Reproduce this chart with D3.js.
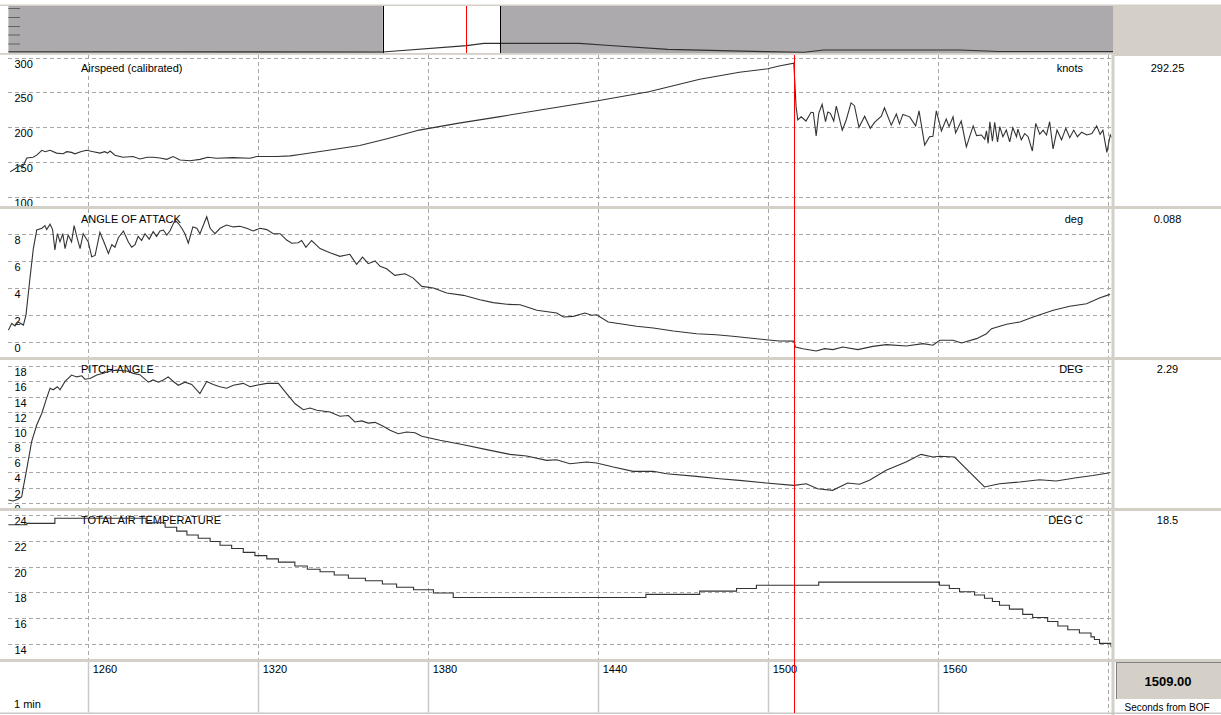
<!DOCTYPE html>
<html><head><meta charset="utf-8">
<script src="https://cdn.jsdelivr.net/npm/d3@7"></script>
<style>
html,body{margin:0;padding:0;background:#fff;}
svg{display:block;font-family:"Liberation Sans",Arial,sans-serif;}
</style></head><body>
<svg id="c" width="1221" height="715"></svg>
<script>
// ---------------- DATA ----------------
const timeTicks = [1260, 1320, 1380, 1440, 1500, 1560];
const timeGrid = [1260, 1320, 1380, 1440, 1500, 1560, 1620];
const cursorTime = 1509.2;
const cursorLabel = "1509.00";

const airspeedTicks = [100, 150, 200, 250, 300];
const aoaTicks = [0, 2, 4, 6, 8];
const pitchTicks = [0, 2, 4, 6, 8, 10, 12, 14, 16, 18];
const tatTicks = [14, 16, 18, 20, 22, 24];

const airspeedTime = [1232.6,1234.5,1236,1237,1238.5,1240.7,1242,1243.8,1245,1246.7,1249,1251.3,1252.6,1254.3,1255.5,1257.5,1259.6,1262,1264.3,1266,1267,1267.9,1269.6,1272.4,1276,1278.4,1281,1283,1285.5,1287.9,1290.1,1292.6,1296.1,1299.6,1302.4,1305.5,1311.3,1317.3,1319.6,1326.7,1331.4,1334.9,1345,1356,1366,1377,1391,1405,1423,1440,1458,1476,1490,1500,1504,1509.2,
 1510,1510.6,1511.8,1513.5,1515.3,1516.1,1517.1,1518,1519.2,1520.4,1521.2,1522.1,1523.3,1524.2,1526.3,1527.7,1529.4,1530.6,1532.2,1534.2,1536.2,1537.7,1540.1,1541.2,1543.6,1545.4,1546.5,1547.7,1550.1,1552.2,1553.4,1555.4,1557.1,1558.3,1559.5,1561.3,1563,1564,1565.4,1566.3,1568.3,1570.1,1572.5,1573.7,1575.4,1576.6,1577.2,1577.8,1578.4,1579.3,1580.1,1581.1,1581.9,1583,1584.2,1585.4,1586.5,1587.8,1588.3,1589.5,1590.7,1591.9,1593.4,1594.6,1596,1597.2,1598.4,1599.5,1600.7,1602.1,1603.7,1605.2,1606.6,1608,1609.3,1610.8,1612.6,1614.4,1616.1,1617.3,1618.3,1619.7,1620.9,1621.8];
const airspeedValue = [136,141,145,143,156,157,160,167,165,167,163,162,165,164,162,165,167,165,163,165,163,166,160,157,158,154.5,157,157,156,154,158,153,152,154,157,155.5,156.5,155.5,158,158,159,161,167,174,184,196,206,215,227,238,251,269,279,284,288,292,
 230,210.5,215,209,221.5,221,187.5,220,233,208,222,220,209,230.5,196,210.5,235,231,200,216,198.5,207,216,228,203,219,205,218.5,215,202,223.5,174.5,186.5,187,223.5,194.7,212,201,215,192,209,172,202,188,189,183,195,177,208,180,207,179,201,186.5,196,179,199.5,186.5,197.5,182,191,186.5,166,205.7,190,196,189,208,169,196,182,198.5,185,196,186.5,193,189,191,202,190,196,164,189,183];

const aoaTime = [1232,1233.2,1234.3,1235.5,1237.3,1238.2,1239.6,1240.8,1242,1243.8,1244.9,1245.5,1246.7,1247.6,1248.4,1249.3,1250.2,1251.2,1252,1253.1,1254.3,1255.2,1256.3,1257.3,1258.4,1260.2,1261.4,1262.6,1264.3,1265.5,1267.3,1268.5,1269.6,1270.8,1272.6,1274.3,1275.5,1276.7,1277.8,1279,1280.2,1281.7,1283.1,1284.3,1285.5,1286.7,1287.9,1289,1290.8,1292,1293.2,1294.3,1295.5,1297.1,1298.5,1299.6,1302,1303.2,1304.9,1306.7,1309,1311.4,1313.7,1316.1,1318.4,1320.8,1323.2,1325.5,1327.9,1330.2,1332,1334.3,1335.5,1337,1339,1342,1345.5,1349,1352.5,1354.9,1357,1359,1361.4,1363.2,1365.5,1368.4,1372,1374.9,1377.9,1382,1386.7,1392.6,1398.4,1403.1,1407.9,1412.6,1418.5,1425.5,1427.9,1431.4,1435.5,1437.9,1439.6,1443.7,1447.9,1453.7,1459.6,1466.7,1474.9,1481.8,1487.7,1493.5,1499.4,1504.1,1509.2,1509.8,1512.4,1517.1,1520.1,1523,1526.5,1531.8,1537.1,1541.9,1548.9,1554.8,1558.3,1560.7,1565.4,1568.4,1573.7,1577.2,1579,1584.3,1589,1593.7,1600.8,1606.6,1612.5,1617.3,1620.8];
const aoaValue = [0.9,1.4,1.2,1.5,1.27,2.0,4.7,6.9,8.27,8.4,8.6,8.3,8.7,8.3,6.8,8.0,7.4,8.0,6.9,7.9,7.4,8.6,7.66,6.9,8.0,7.4,6.3,6.4,8.1,7.5,6.55,7.2,7.0,7.7,8.2,7.4,7.0,7.2,7.8,7.5,8.0,7.6,8.15,7.8,8.2,8.27,7.9,8.2,9.0,8.75,8.4,8.0,7.3,8.5,8.4,8.0,9.25,8.4,8.0,8.4,8.64,8.5,8.55,8.4,8.2,8.4,8.3,8.0,8.0,7.53,7.3,7.33,7.5,7.0,7.5,6.9,6.6,6.33,6.48,5.74,6.28,5.79,5.99,5.6,5.42,4.93,5.05,4.73,4.12,4.0,3.63,3.46,3.14,2.92,2.8,2.77,2.36,2.16,1.86,1.91,2.16,1.99,2.03,1.5,1.37,1.18,1.05,0.83,0.63,0.56,0.44,0.32,0.19,0.1,0.088,-0.35,-0.47,-0.64,-0.47,-0.54,-0.35,-0.54,-0.3,-0.17,-0.27,-0.1,-0.22,0.15,0.15,-0.05,0.27,0.63,1.0,1.33,1.5,1.86,2.36,2.65,2.84,3.28,3.53];

const pitchTime = [1232,1233.7,1235.5,1236.7,1237.3,1238.5,1240.2,1242,1243.8,1245.5,1246.7,1247.8,1249.3,1250.2,1252,1254.3,1256.1,1257.9,1259,1260.8,1263.2,1265.5,1267.9,1270.2,1273.8,1276.1,1278.4,1281.4,1283.1,1284.9,1286.7,1288.4,1290.2,1292,1294.3,1296.7,1299.6,1302,1304.3,1306.7,1309,1311.4,1314.9,1317.3,1319.6,1323.2,1327.3,1330.2,1333.2,1336.1,1338.5,1340.8,1345.5,1349,1352,1354.3,1356.7,1359,1361.4,1364.3,1366.7,1369.6,1372.6,1375.5,1377.9,1384.3,1392.6,1400.8,1409,1414.9,1422,1425.5,1430.2,1436.1,1439.6,1445.5,1452.5,1459.6,1464.3,1474.9,1483,1490,1499.4,1509.2,1513.6,1517.6,1522.9,1528.2,1532.4,1535.9,1541.8,1548.8,1554.1,1558.3,1560.6,1565.9,1576.5,1581.8,1588.9,1595.9,1601.8,1608.9,1614.8,1620.7];
const pitchValue = [0.36,0.22,0.49,0.8,2.1,4.5,8.05,10.25,11.8,13.8,15.1,14.9,15.3,14.9,16.0,16.85,16.6,16.75,16.3,16.4,16.85,17.07,17.37,17.5,17.37,17.07,16.9,15.9,16.2,15.9,16.2,16.6,16.0,15.5,15.9,15.6,14.4,16.0,15.6,15.3,15.1,15.5,15.75,15.3,15.5,15.75,15.75,14.4,13.06,12.27,12.5,12.2,11.97,11.4,11.5,10.65,10.8,10.5,10.6,10.08,9.55,9.1,9.33,9.24,8.76,8.23,7.65,7.0,6.38,6.16,5.59,5.67,5.15,5.37,5.24,4.7,4.14,4.14,3.83,3.48,3.17,2.95,2.6,2.29,2.5,1.85,1.63,2.6,2.43,2.95,4.27,5.37,6.38,6.03,6.12,6.03,2.07,2.5,2.73,3.03,2.86,3.3,3.6,3.96];

const tatTime = [1232,1238.5,1248.4,1280.6,1287.3,1291.4,1295,1299,1303.2,1306.7,1310.8,1314.9,1319,1323.2,1327.3,1333.1,1337.5,1342,1347,1352,1358,1364,1369,1375,1382,1389,1457,1476,1489,1496,1518,1560.6,1564.1,1567.7,1573,1576.5,1579.3,1581.8,1585.3,1590,1593.5,1598.8,1602.4,1605.9,1610,1614.1,1615.3,1617.1,1621.2,1622];
const tatValue = [23.25,23.35,23.75,23.4,23.05,22.75,22.45,22.2,21.95,21.65,21.4,21.1,20.85,20.6,20.35,20.05,19.8,19.6,19.35,19.1,18.9,18.65,18.4,18.2,17.95,17.6,17.85,18.1,18.3,18.55,18.8,18.55,18.3,18.05,17.8,17.55,17.3,17.0,16.7,16.3,16.05,15.75,15.4,15.1,14.85,14.55,14.35,14.05,13.8,13.8];

const overviewTime = [-10,1232,1510,1567,1884,1985,2177,2501,2630,2694,3146,3275,3654];
const overviewValue = [0.05,0.0,1.37,1.89,1.89,1.41,0.59,0.07,-0.05,0.43,0.43,0.11,0.11];

// ---------------- DRAW ----------------
const svg = d3.select('#c');
const SEP = '#d4d0c8';
const GRID = '#a8a8a8';
const x = d3.scaleLinear().domain([1232, 1622]).range([8.4, 1113.4]);
const plotL = 8, plotR = 1111.5;

// top border + overview
svg.append('rect').attr('x',0).attr('y',4.5).attr('width',1221).attr('height',1.5).attr('fill',SEP);
const ovX = d3.scaleLinear().domain([-10, 3654]).range([8.4, 1113]);
const ovY = d3.scaleLinear().domain([0, 10]).range([52, 6]);
const ovTop = 6, ovBot = 53;
const w0 = ovX(1232), w1 = ovX(1622);
svg.append('rect').attr('x',8.4).attr('y',ovTop).attr('width',w0-8.4).attr('height',ovBot-ovTop).attr('fill','#acaaac');
svg.append('rect').attr('x',w1).attr('y',ovTop).attr('width',1113-w1).attr('height',ovBot-ovTop).attr('fill','#acaaac');
svg.append('rect').attr('x',1113).attr('y',ovTop).attr('width',108).attr('height',ovBot-ovTop+3).attr('fill',SEP);
[8, 17, 26, 34.5, 43.5].forEach(yy => {
  svg.append('line').attr('x1',8.4).attr('x2',20).attr('y1',yy+0.5).attr('y2',yy+0.5).attr('stroke','#606060').attr('stroke-width',1);
});
const ovData = overviewTime.map((t,i)=>[t, overviewValue[i]]);
svg.append('path').datum(ovData).attr('fill','none').attr('stroke','#303030').attr('stroke-width',1.2)
  .attr('d', d3.line().x(d=>ovX(d[0])).y(d=>ovY(d[1])));
svg.append('line').attr('x1',Math.round(w0)+0.5).attr('x2',Math.round(w0)+0.5).attr('y1',ovTop).attr('y2',ovBot).attr('stroke','#000');
svg.append('line').attr('x1',Math.round(w1)+0.5).attr('x2',Math.round(w1)+0.5).attr('y1',ovTop).attr('y2',ovBot).attr('stroke','#000');
svg.append('line').attr('x1',Math.round(ovX(cursorTime))+0.5).attr('x2',Math.round(ovX(cursorTime))+0.5).attr('y1',ovTop).attr('y2',ovBot).attr('stroke','#ff0000');
svg.append('rect').attr('x',0).attr('y',ovBot).attr('width',1221).attr('height',1.8).attr('fill',SEP);

const panels = [
  {title:'Airspeed (calibrated)', unit:'knots', value:'292.25', t:airspeedTime, v:airspeedValue, ticks:airspeedTicks,
   y:d3.scaleLinear().domain([100,300]).range([197,57.6]), top:55, bottom:206, ty:68, step:false},
  {title:'ANGLE OF ATTACK', unit:'deg', value:'0.088', t:aoaTime, v:aoaValue, ticks:aoaTicks,
   y:d3.scaleLinear().domain([0,8]).range([342.3,233.7]), top:209, bottom:357, ty:218.5, step:false},
  {title:'PITCH ANGLE', unit:'DEG', value:'2.29', t:pitchTime, v:pitchValue, ticks:pitchTicks,
   y:d3.scaleLinear().domain([0,18]).range([502.7,366.3]), top:360, bottom:508, ty:369, step:false},
  {title:'TOTAL AIR TEMPERATURE', unit:'DEG C', value:'18.5', t:tatTime, v:tatValue, ticks:tatTicks,
   y:d3.scaleLinear().domain([14,24]).range([644,515]), top:511, bottom:659, ty:520, step:true}
];

const defs = svg.append('defs');
panels.forEach((p,i) => {
  defs.append('clipPath').attr('id','clip'+i).append('rect')
    .attr('x',plotL).attr('y',p.top).attr('width',plotR-plotL).attr('height',p.bottom-p.top);
  const g = svg.append('g').attr('clip-path',`url(#clip${i})`);
  g.selectAll('line.h').data(p.ticks).enter().append('line')
    .attr('x1',plotL).attr('x2',plotR)
    .attr('y1',d=>Math.round(p.y(d))+0.5).attr('y2',d=>Math.round(p.y(d))+0.5)
    .attr('stroke',GRID).attr('stroke-dasharray','4,3');
  g.selectAll('line.v').data(timeGrid).enter().append('line')
    .attr('x1',d=>Math.round(x(d))+0.5).attr('x2',d=>Math.round(x(d))+0.5)
    .attr('y1',p.top).attr('y2',p.bottom)
    .attr('stroke',GRID).attr('stroke-dasharray','4,3');
  g.selectAll('text.tk').data(p.ticks).enter().append('text')
    .attr('x',14.5).attr('y',d=>p.y(d)+10)
    .attr('font-size',11).attr('fill','#000').text(d=>d);
  g.append('text').attr('x',81).attr('y',p.ty+4).attr('font-size',11).attr('fill','#000').text(p.title);
  g.append('text').attr('x',1083).attr('y',p.ty+4).attr('font-size',11).attr('fill','#000').attr('text-anchor','end').text(p.unit);
  const data = p.t.map((t,k)=>[t,p.v[k]]);
  const line = d3.line().x(d=>x(d[0])).y(d=>p.y(d[1])).curve(p.step ? d3.curveStepAfter : d3.curveLinear);
  g.append('path').datum(data).attr('fill','none').attr('stroke','#333333').attr('stroke-width',1.1).attr('d',line);
  svg.append('text').attr('x',1167.5).attr('y',p.ty+4).attr('font-size',11).attr('fill','#000').attr('text-anchor','middle').text(p.value);
});

// separators
[206, 357, 508, 659].forEach(yy => {
  svg.append('rect').attr('x',0).attr('y',yy).attr('width',1221).attr('height',3).attr('fill',SEP);
});
svg.append('rect').attr('x',1111.5).attr('y',ovBot).attr('width',3).attr('height',715-ovBot).attr('fill',SEP);

// bottom time axis
const axisTop = 662, axisBot = 712.5;
svg.selectAll('line.ax').data(timeTicks).enter().append('line')
  .attr('x1',d=>Math.round(x(d))+0.5).attr('x2',d=>Math.round(x(d))+0.5)
  .attr('y1',axisTop).attr('y2',axisBot).attr('stroke','#c8c8c8').attr('stroke-width',1.5);
svg.append('line').attr('x1',Math.round(x(1620))+0.5).attr('x2',Math.round(x(1620))+0.5)
  .attr('y1',axisTop).attr('y2',axisBot).attr('stroke',GRID).attr('stroke-dasharray','4,3');
svg.selectAll('text.ax').data(timeTicks).enter().append('text')
  .attr('x',d=>x(d)+5).attr('y',672.5).attr('font-size',11).attr('fill','#000').text(d=>d);
svg.append('text').attr('x',14).attr('y',708).attr('font-size',11).attr('fill','#000').text('1 min');
svg.append('rect').attr('x',0).attr('y',712.5).attr('width',1221).attr('height',1.5).attr('fill','#c8c8c8');

// cursor box
svg.append('rect').attr('x',1116).attr('y',662).attr('width',105).attr('height',37).attr('fill',SEP);
svg.append('line').attr('x1',1116).attr('x2',1221).attr('y1',662.5).attr('y2',662.5).attr('stroke','#808080');
svg.append('line').attr('x1',1116.5).attr('x2',1116.5).attr('y1',662).attr('y2',699).attr('stroke','#808080');
svg.append('text').attr('x',1168).attr('y',685.5).attr('font-size',13).attr('font-weight','bold').attr('text-anchor','middle').attr('fill','#000').text(cursorLabel);
svg.append('text').attr('x',1167).attr('y',711).attr('font-size',10).attr('text-anchor','middle').attr('fill','#000').text('Seconds from BOF');

// cursor line
const cx = Math.round(x(cursorTime))+0.5;
svg.append('line').attr('x1',cx).attr('x2',cx).attr('y1',55).attr('y2',713).attr('stroke','#ff0000').attr('stroke-width',1);
</script>
</body></html>
